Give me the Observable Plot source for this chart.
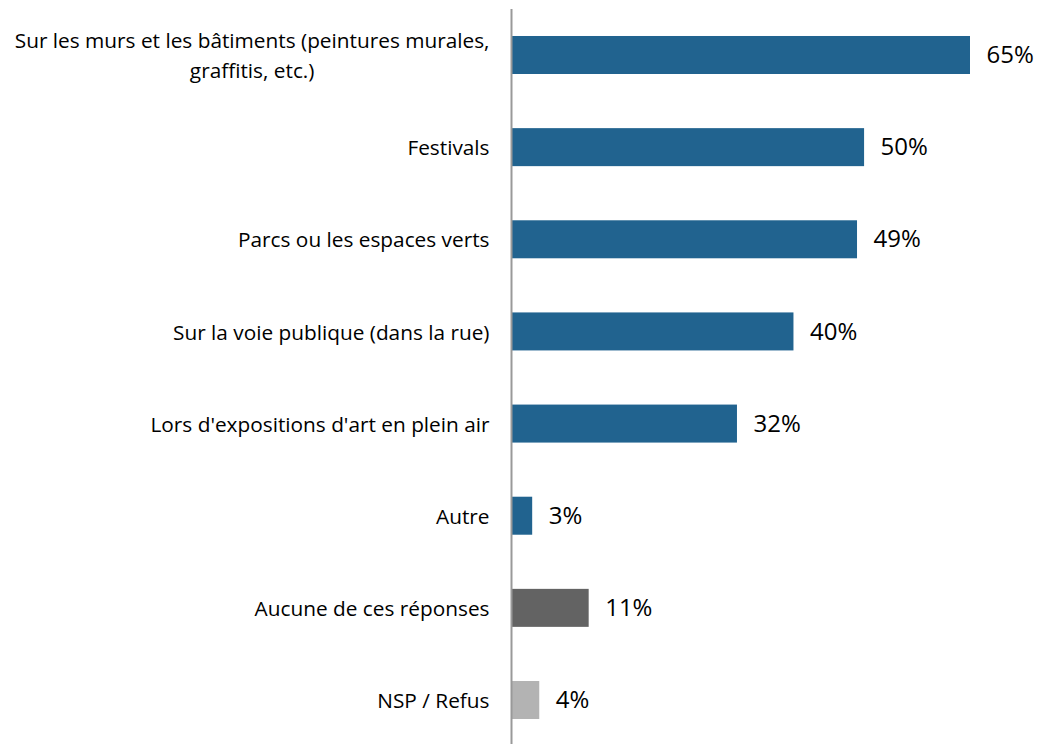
<!DOCTYPE html>
<html>
<head>
<meta charset="utf-8">
<script src="https://cdn.jsdelivr.net/npm/d3@7"></script>
<script src="https://cdn.jsdelivr.net/npm/@observablehq/plot@0.6"></script>
<style>
  html, body { margin: 0; padding: 0; background: #fff; }
  #chart svg { display: block; }
</style>
</head>
<body>
<div id="chart"></div>
<script>
const categories = [
  "Sur les murs et les bâtiments (peintures murales,\ngraffitis, etc.)",
  "Festivals",
  "Parcs ou les espaces verts",
  "Sur la voie publique (dans la rue)",
  "Lors d'expositions d'art en plein air",
  "Autre",
  "Aucune de ces réponses",
  "NSP / Refus"
];
const values = [65, 50, 49, 40, 32, 3, 11, 4];
const groups = ["main", "main", "main", "main", "main", "main", "aucune", "nsp"];
const groupColors = ["#21638F", "#636363", "#B3B3B3"];

const data = categories.map((c, i) => ({cat: c, value: values[i], group: groups[i]}));

const chart = Plot.plot({
  width: 1038,
  height: 744,
  marginLeft: 511,
  marginRight: 68,
  marginTop: 9,
  marginBottom: -2,
  style: {fontFamily: "'Open Sans', sans-serif", background: "#fff", color: "#000", overflow: "hidden"},
  x: {domain: [0, 65], axis: null},
  y: {domain: categories, paddingInner: 0.5876, paddingOuter: 0.293, round: false, label: null},
  color: {domain: ["main", "aucune", "nsp"], range: groupColors},
  marks: [
    Plot.axisY({tickSize: 0, tickPadding: 22, fontSize: 20.8, label: null, lineHeight: 1.45, fill: "#000", dy: -2}),
    Plot.barX(data, {x: "value", y: "cat", fill: "group"}),
    Plot.text(data, {x: "value", y: "cat", text: d => d.value + "%", textAnchor: "start", dx: 16, fontSize: 24, fill: "#000"}),
    Plot.ruleX([0], {stroke: "#999", strokeWidth: 2})
  ]
});
document.getElementById("chart").appendChild(chart);

// center the lines of multi-line category labels within their block
chart.querySelectorAll("g[aria-label='y-axis tick label'] text").forEach(t => {
  const spans = t.querySelectorAll("tspan");
  if (spans.length > 1) {
    const w = t.getBBox().width;
    t.setAttribute("text-anchor", "middle");
    spans.forEach(s => s.setAttribute("x", -w / 2));
  }
});
</script>
</body>
</html>
